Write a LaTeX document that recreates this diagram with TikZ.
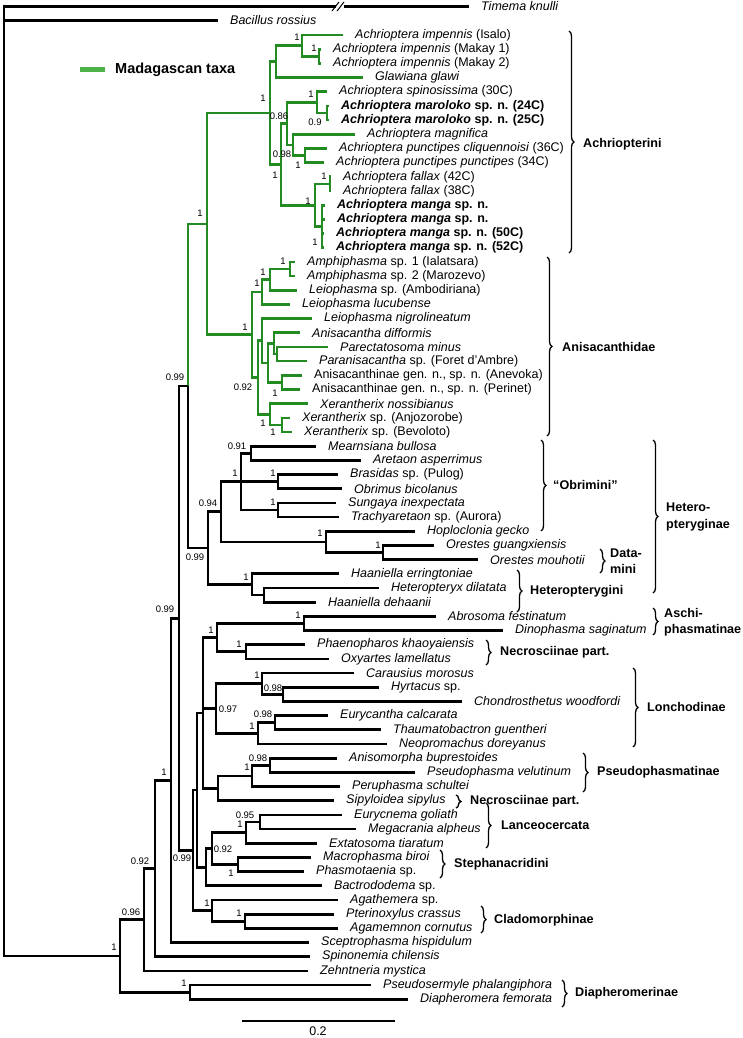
\documentclass[tikz,border=0pt]{standalone}
\usepackage{fontspec}
\setmainfont{Liberation Sans}
\usetikzlibrary{decorations.pathreplacing}

\definecolor{madag}{RGB}{34,139,34}
\definecolor{madaglight}{RGB}{76,178,72}

\newcommand{\leaffont}{\fontsize{12.5}{14}\selectfont}
\newcommand{\suppfont}{\fontsize{9.5}{10}\selectfont}
\newcommand{\cladefont}{\fontsize{12.6}{16.5}\selectfont\bfseries}

\tikzset{
  branch/.style={line width=2.7pt},
  gbranch/.style={line width=2.7pt, draw=madag},
  taxon/.style={anchor=west, inner xsep=12pt, inner ysep=1pt, font=\leaffont},
  supp/.style={font=\suppfont, inner sep=0pt},
  clade/.style={anchor=west, font=\cladefont, align=left, inner sep=0pt},
  bracket/.style={line width=1.3pt, decorate, decoration={brace, amplitude=5pt}}
}

\begin{document}
\begin{tikzpicture}[x=1pt, y=-1pt]
\useasboundingbox (0,0) rectangle (743,1038);

% Terminal taxa
\node[taxon] (timema) at (469,6.5) {\textit{Timema knulli}};
\node[taxon] (bacillus) at (218,20.5) {\textit{Bacillus rossius}};
\foreach \i/\x/\name in {
  1/343/{\textit{Achrioptera impennis} (Isalo)},
  2/321/{\textit{Achrioptera impennis} (Makay 1)},
  3/321/{\textit{Achrioptera impennis} (Makay 2)},
  4/363/{\textit{Glawiana glawi}},
  5/327/{\textit{Achrioptera spinosissima} (30C)},
  6/329/{\textbf{\textit{Achrioptera maroloko} sp. n. (24C)}},
  7/329/{\textbf{\textit{Achrioptera maroloko} sp. n. (25C)}},
  8/355/{\textit{Achrioptera magnifica}},
  9/327/{\textit{Achrioptera punctipes cliquennoisi} (36C)},
  10/324/{\textit{Achrioptera punctipes punctipes} (34C)},
  11/331/{\textit{Achrioptera fallax} (42C)},
  12/331/{\textit{Achrioptera fallax} (38C)},
  13/325/{\textbf{\textit{Achrioptera manga} sp. n.}},
  14/325/{\textbf{\textit{Achrioptera manga} sp. n.}},
  15/324/{\textbf{\textit{Achrioptera manga} sp. n. (50C)}},
  16/324/{\textbf{\textit{Achrioptera manga} sp. n. (52C)}},
  17/295/{\textit{Amphiphasma} sp. 1 (Ialatsara)},
  18/295/{\textit{Amphiphasma} sp. 2 (Marozevo)},
  19/297/{\textit{Leiophasma} sp. (Ambodiriana)},
  20/290/{\textit{Leiophasma lucubense}},
  21/312/{\textit{Leiophasma nigrolineatum}},
  22/300/{\textit{Anisacantha difformis}},
  23/328/{\textit{Parectatosoma minus}},
  24/307/{\textit{Paranisacantha} sp. (Foret d'Ambre)},
  25/302/{Anisacanthinae gen. n., sp. n. (Anevoka)},
  26/300/{Anisacanthinae gen. n., sp. n. (Perinet)},
  27/308/{\textit{Xerantherix nossibianus}},
  28/290/{\textit{Xerantherix} sp. (Anjozorobe)},
  29/292/{\textit{Xerantherix} sp. (Bevoloto)},
  30/316/{\textit{Mearnsiana bullosa}},
  31/361/{\textit{Aretaon asperrimus}},
  32/338/{\textit{Brasidas} sp. (Pulog)},
  33/342/{\textit{Obrimus bicolanus}},
  34/336/{\textit{Sungaya inexpectata}},
  35/339/{\textit{Trachyaretaon} sp. (Aurora)},
  36/415/{\textit{Hoploclonia gecko}},
  37/434/{\textit{Orestes guangxiensis}},
  38/478/{\textit{Orestes mouhotii}},
  39/339/{\textit{Haaniella erringtoniae}},
  40/379/{\textit{Heteropteryx dilatata}},
  41/316/{\textit{Haaniella dehaanii}},
  42/436/{\textit{Abrosoma festinatum}},
  43/503/{\textit{Dinophasma saginatum}},
  44/305/{\textit{Phaenopharos khaoyaiensis}},
  45/329/{\textit{Oxyartes lamellatus}},
  46/354/{\textit{Carausius morosus}},
  47/379/{\textit{Hyrtacus} sp.},
  48/462/{\textit{Chondrosthetus woodfordi}},
  49/328/{\textit{Eurycantha calcarata}},
  50/381/{\textit{Thaumatobactron guentheri}},
  51/387/{\textit{Neopromachus doreyanus}},
  52/337/{\textit{Anisomorpha buprestoides}},
  53/415/{\textit{Pseudophasma velutinum}},
  54/340/{\textit{Peruphasma schultei}},
  55/334/{\textit{Sipyloidea sipylus}},
  56/342/{\textit{Eurycnema goliath}},
  57/356/{\textit{Megacrania alpheus}},
  58/317/{\textit{Extatosoma tiaratum}},
  59/311/{\textit{Macrophasma biroi}},
  60/304/{\textit{Phasmotaenia} sp.},
  61/322/{\textit{Bactrododema} sp.},
  62/338/{\textit{Agathemera} sp.},
  63/334/{\textit{Pterinoxylus crassus}},
  64/338/{\textit{Agamemnon cornutus}},
  65/309/{\textit{Sceptrophasma hispidulum}},
  66/310/{\textit{Spinonemia chilensis}},
  67/308/{\textit{Zehntneria mystica}},
  68/371/{\textit{Pseudosermyle phalangiphora}},
  69/408/{\textit{Diapheromera femorata}}} {
  \node[taxon] (t\i) at (\x, {35+(\i-1)*14.18}) {\name};
}

% Internal nodes, Madagascan clade
\coordinate (makay) at (319,56.27);
\coordinate (imp) at (302,45.64);
\coordinate (glaw) at (276,61.59);
\coordinate (maro) at (327,112.99);
\coordinate (spin) at (317,102.36);
\coordinate (punc) at (305,155.53);
\coordinate (magn) at (293,144.90);
\coordinate (n086) at (287,123.63);
\coordinate (fallax) at (330,183.89);
\coordinate (manga) at (322,226.43);
\coordinate (fm) at (315,205.16);
\coordinate (i4) at (281,164.40);
\coordinate (achr) at (270,113.0);
\coordinate (amph) at (290,268.97);
\coordinate (l1) at (270,279.61);
\coordinate (l2) at (262,292.01);
\coordinate (parect) at (277,354.05);
\coordinate (p2) at (274,343.42);
\coordinate (anev) at (282,382.41);
\coordinate (p3) at (268,362.91);
\coordinate (p4) at (262,340.76);
\coordinate (x1) at (282,424.95);
\coordinate (x2) at (270,414.32);
\coordinate (p5) at (258,377.54);
\coordinate (anis) at (252,334.78);
\coordinate (mad) at (207,223.89);

% Internal nodes, the rest
\coordinate (ma) at (251,453.31);
\coordinate (bo) at (278,481.67);
\coordinate (st) at (278,510.03);
\coordinate (obr) at (241,481.67);
\coordinate (ores) at (383,552.57);
\coordinate (hopl) at (326,541.94);
\coordinate (n094) at (221,511.80);
\coordinate (hd) at (264,595.11);
\coordinate (ht) at (252,584.48);
\coordinate (hetg) at (208,548.14);
\coordinate (n6) at (188,386.02);
\coordinate (aschi) at (304,623.47);
\coordinate (necr) at (246,651.83);
\coordinate (nA) at (217,637.65);
\coordinate (hyrt) at (283,694.37);
\coordinate (caus) at (262,683.74);
\coordinate (eth) at (275,722.73);
\coordinate (eury) at (258,733.37);
\coordinate (lonch) at (216,708.55);
\coordinate (anpr) at (270,765.27);
\coordinate (pseu) at (252,775.91);
\coordinate (sipn) at (218,788.31);
\coordinate (nB) at (203,712.98);
\coordinate (emeg) at (260,821.99);
\coordinate (lanc) at (246,832.62);
\coordinate (steph) at (238,864.53);
\coordinate (nE) at (212,848.58);
\coordinate (nD) at (206,867.19);
\coordinate (nC) at (197,790.08);
\coordinate (ptag) at (245,921.25);
\coordinate (clad) at (212,910.61);
\coordinate (n7) at (193,850.35);
\coordinate (n5) at (179,618.18);
\coordinate (n4) at (171,780.35);
\coordinate (n3) at (155,868.52);
\coordinate (n2) at (144,919.70);
\coordinate (diaph) at (190,992.15);
\coordinate (n1) at (120,955.92);
\coordinate (root) at (4,480);

% Branches
\foreach \p/\c in {mad/achr, mad/anis, achr/glaw, achr/i4, glaw/imp, glaw/t4.west,
    imp/t1.west, imp/makay, makay/t2.west, makay/t3.west, i4/n086, i4/fm,
    n086/spin, n086/magn, spin/t5.west, spin/maro, maro/t6.west, maro/t7.west,
    magn/t8.west, magn/punc, punc/t9.west, punc/t10.west, fm/fallax, fm/manga,
    fallax/t11.west, fallax/t12.west, manga/t13.west, manga/t14.west,
    manga/t15.west, manga/t16.west, anis/l2, anis/p5, l2/l1, l2/t20.west,
    l1/amph, l1/t19.west, amph/t17.west, amph/t18.west, p5/p4, p5/x2,
    p4/t21.west, p4/p3, p3/p2, p3/anev, p2/t22.west, p2/parect,
    parect/t23.west, parect/t24.west, anev/t25.west, anev/t26.west,
    x2/t27.west, x2/x1, x1/t28.west, x1/t29.west, n6/mad}
  \draw[gbranch] (\p) |- (\c);

\foreach \p/\c in {root/timema.west, root/bacillus.west, root/n1, n1/n2, n1/diaph,
    diaph/t68.west, diaph/t69.west, n2/n3, n2/t67.west, n3/n4, n3/t66.west,
    n4/n5, n4/t65.west, n5/n6, n5/n7, n6/hetg, hetg/n094, hetg/ht,
    n094/obr, n094/hopl, obr/ma, obr/bo, obr/st, ma/t30.west, ma/t31.west,
    bo/t32.west, bo/t33.west, st/t34.west, st/t35.west, hopl/t36.west,
    hopl/ores, ores/t37.west, ores/t38.west, ht/t39.west, ht/hd,
    hd/t40.west, hd/t41.west, n7/nC, n7/clad, nC/nB, nC/nD, nB/nA,
    nB/lonch, nB/sipn, nA/aschi, nA/necr, aschi/t42.west, aschi/t43.west,
    necr/t44.west, necr/t45.west, lonch/caus, lonch/eury, caus/t46.west,
    caus/hyrt, hyrt/t47.west, hyrt/t48.west, eury/eth, eury/t51.west,
    eth/t49.west, eth/t50.west, sipn/pseu, sipn/t55.west, pseu/anpr,
    pseu/t54.west, anpr/t52.west, anpr/t53.west, nD/nE, nD/t61.west,
    nE/lanc, nE/steph, lanc/emeg, lanc/t58.west, emeg/t56.west,
    emeg/t57.west, steph/t59.west, steph/t60.west, clad/t62.west,
    clad/ptag, ptag/t63.west, ptag/t64.west}
  \draw[branch] (\p) |- (\c);

% Break on the Timema branch
\fill[white] (336,1) rectangle (344,12);
\draw[line width=1pt] (332,11) -- (339,2);
\draw[line width=1pt] (337,11) -- (344,2);

% Support values
\foreach \x/\y/\v [count=\k] in {297/37/1, 314/48/1, 263/98/1, 311/94/1,
    279/116/0.86, 315/122/0.9, 282/154/0.98, 298/165/1, 275/175/1,
    324/176/1, 308/201/1, 315/242/1, 200/213/1, 283/261/1, 263/272/1,
    257/283/1, 245/327/1, 243/387/0.92, 275/393/1, 263/423/1, 273/432/1,
    175/377/0.99, 237/446/0.91, 235/473/1, 273/473/1, 273/502/1,
    208/503/0.94, 320/533/1, 378/545/1, 195/557/0.99, 246/577/1,
    165/609/0.99, 298/615/1, 211/630/1, 239/644/1, 257/675/1,
    273/688/0.98, 228/709/0.97, 263/714/0.98, 252/726/1, 258/758/0.98,
    247/767/1, 164/772/1, 245/815/0.95, 240/824/1, 223/849/0.92,
    182/858/0.99, 140/861/0.92, 231/873/1, 207/903/1, 239/913/1,
    131/912/0.96, 114/947/1, 184/983/1}
  \node[supp] (s\k) at (\x,\y) {\v};

% Clade labels
\node[clade] (achriopterini) at (583,144) {Achriopterini};
\node[clade] (anisacanthidae) at (562,347) {Anisacanthidae};
\node[clade] (obrimini) at (553,485) {“Obrimini”};
\node[clade] (heteropteryginae) at (666,517) {Hetero-\\pteryginae};
\node[clade] (datamini) at (610,561) {Data-\\mini};
\node[clade] (heteropterygini) at (530,591) {Heteropterygini};
\node[clade] (aschiphasmatinae) at (664,622) {Aschi-\\phasmatinae};
\node[clade] (necrosciinaeA) at (500,652) {Necrosciinae part.};
\node[clade] (lonchodinae) at (647,707) {Lonchodinae};
\node[clade] (pseudophasmatinae) at (597,772) {Pseudophasmatinae};
\node[clade] (necrosciinaeB) at (470,801) {Necrosciinae part.};
\node[clade] (lanceocercata) at (501,825) {Lanceocercata};
\node[clade] (stephanacridini) at (454,864) {Stephanacridini};
\node[clade] (cladomorphinae) at (494,920) {Cladomorphinae};
\node[clade] (diapheromerinae) at (575,993) {Diapheromerinae};

\draw[bracket] (569,31) -- (569,253);
\draw[bracket] (547,257) -- (547,436);
\draw[bracket] (541,440) -- (541,531);
\draw[bracket] (653,440) -- (653,593);
\draw[bracket] (600,549) -- (600,573);
\draw[bracket] (517,570) -- (517,612);
\draw[bracket] (653,608) -- (653,635);
\draw[bracket] (486,640) -- (486,665);
\draw[bracket] (633,668) -- (633,747);
\draw[bracket] (583,753) -- (583,792);
\draw[bracket] (456,795) -- (456,808);
\draw[bracket] (486,803) -- (486,848);
\draw[bracket] (440,850) -- (440,878);
\draw[bracket] (481,906) -- (481,933);
\draw[bracket] (562,980) -- (562,1007);

% Legend
\draw[line width=5pt, madaglight] (80,70) -- (105,70);
\node[anchor=west, inner sep=0pt, font=\fontsize{14.5}{16}\selectfont\bfseries] (legend) at (115,70) {Madagascan taxa};

% Scale bar
\draw[line width=1.5pt] (242,1021) coordinate (sb0) -- (395,1021) coordinate (sb1);
\node[font=\fontsize{12.5}{14}\selectfont, inner sep=0pt] (sblabel) at (318,1031) {0.2};
\end{tikzpicture}
\end{document}
